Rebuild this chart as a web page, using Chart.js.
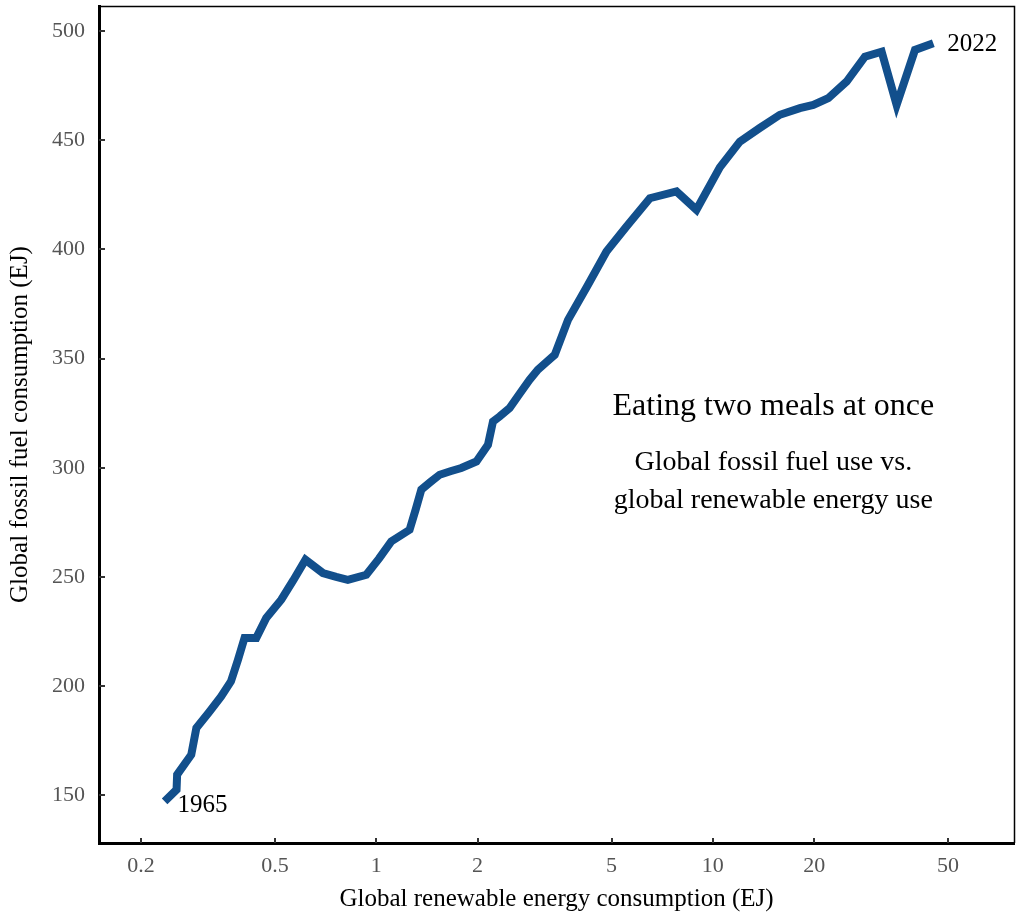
<!DOCTYPE html>
<html>
<head>
<meta charset="utf-8">
<script src="https://cdn.jsdelivr.net/npm/chart.js@4.4.1/dist/chart.umd.min.js"></script>
<style>
  html, body { margin: 0; padding: 0; background: #fff; }
  canvas { display: block; }
</style>
</head>
<body>
<canvas id="myChart" width="1018" height="917"></canvas>
<script>
// years 1965..2022
const years = [
  1965, 1966, 1967, 1968, 1969, 1970, 1971, 1972, 1973, 1974,
  1975, 1976, 1977, 1978, 1979, 1980, 1981, 1982, 1983, 1984,
  1985, 1986, 1987, 1988, 1989, 1990, 1991, 1992, 1993, 1994,
  1995, 1996, 1997, 1998, 1999, 2000, 2001, 2002, 2003, 2004,
  2005, 2006, 2007, 2008, 2009, 2010, 2011, 2012, 2013, 2014,
  2015, 2016, 2017, 2018, 2019, 2020, 2021, 2022
];

// global renewable energy consumption (EJ)
const renewables = [
  0.235, 0.255, 0.256, 0.282, 0.292, 0.318, 0.346, 0.370, 0.388, 0.406,
  0.440, 0.471, 0.522, 0.567, 0.616, 0.694, 0.760, 0.823, 0.934, 1.02,
  1.108, 1.256, 1.31, 1.361, 1.45, 1.543, 1.66, 1.789, 1.984, 2.147,
  2.222, 2.327, 2.49, 2.67, 2.856, 3.02, 3.20, 3.39, 3.713, 4.258,
  4.83, 5.54, 6.50, 7.80, 8.94, 10.49, 12.03, 13.8, 15.82, 18.14,
  19.88, 22.03, 24.98, 28.31, 31.74, 35.16, 39.87, 45.2
];

// global fossil fuel consumption (EJ)
const fossil = [
  147.3, 152.6, 159.5, 168.6, 180.9, 188.0, 195.3, 202.2, 212.0, 222.1,
  222.1, 231.2, 239.6, 248.5, 257.9, 251.8, 250.0, 248.7, 251.0, 258.5,
  266.3, 271.6, 281.0, 290.0, 293.5, 296.8, 298.4, 299.9, 302.9, 310.5,
  321.2, 323.5, 327.3, 334.0, 340.3, 344.9, 348.3, 351.7, 367.7, 383.8,
  399.0, 410.4, 423.4, 426.5, 418.1, 437.5, 449.3, 455.6, 461.6, 464.6,
  466.1, 469.2, 476.8, 488.2, 490.5, 466.1, 491.3, 494.4
];

const xTickValues = [0.2, 0.5, 1, 2, 5, 10, 20, 50];
const yTickValues = [150, 200, 250, 300, 350, 400, 450, 500];

const titleLines = ['Eating two meals at once', 'Global fossil fuel use vs.', 'global renewable energy use'];

const points = renewables.map((r, i) => ({ x: r, y: fossil[i] }));

const serif = '"Liberation Serif", "DejaVu Serif", serif';

// frame on top/right and inward tick marks
const framePlugin = {
  id: 'frame',
  afterDraw(chart) {
    const { ctx, chartArea: a, scales } = chart;
    ctx.save();
    ctx.strokeStyle = '#000';
    ctx.lineWidth = 1.5;
    ctx.beginPath();
    ctx.moveTo(a.left, a.top + 0.5);
    ctx.lineTo(a.right + 0.5, a.top + 0.5);
    ctx.lineTo(a.right + 0.5, a.bottom);
    ctx.stroke();

    ctx.strokeStyle = '#333';
    ctx.lineWidth = 2;
    ctx.beginPath();
    xTickValues.forEach(v => {
      const px = Math.round(scales.x.getPixelForValue(v));
      ctx.moveTo(px, a.bottom);
      ctx.lineTo(px, a.bottom - 5);
    });
    yTickValues.forEach(v => {
      const py = Math.round(scales.y.getPixelForValue(v));
      ctx.moveTo(a.left, py);
      ctx.lineTo(a.left + 6, py);
    });
    ctx.stroke();
    ctx.restore();
  }
};

// year labels and the text block
const textPlugin = {
  id: 'texts',
  afterDatasetsDraw(chart) {
    const { ctx, chartArea: a, scales } = chart;
    ctx.save();
    ctx.fillStyle = '#000';
    ctx.textBaseline = 'middle';
    ctx.textAlign = 'left';
    ctx.font = '25px ' + serif;
    const n = points.length - 1;
    ctx.fillText(String(years[0]),
      scales.x.getPixelForValue(points[0].x) + 13,
      scales.y.getPixelForValue(points[0].y) + 4);
    ctx.fillText(String(years[n]),
      scales.x.getPixelForValue(points[n].x) + 14,
      scales.y.getPixelForValue(points[n].y) + 1);

    ctx.textAlign = 'center';
    const cx = a.left + a.width * 0.737;
    const h = a.bottom - a.top;
    ctx.font = '32px ' + serif;
    ctx.fillText(titleLines[0], cx, a.top + h * 0.4791);
    ctx.font = '28px ' + serif;
    ctx.fillText(titleLines[1], cx, a.top + h * 0.5460);
    ctx.fillText(titleLines[2], cx, a.top + h * 0.5914);
    ctx.restore();
  }
};

const ctx = document.getElementById('myChart').getContext('2d');

const myChart = new Chart(ctx, {
  type: 'scatter',
  data: {
    datasets: [
      {
        label: 'Fossil vs renewables',
        data: points,
        showLine: true,
        borderColor: '#124f8c',
        borderWidth: 8,
        borderCapStyle: 'butt',
        borderJoinStyle: 'miter',
        pointRadius: 0,
        tension: 0
      }
    ]
  },
  options: {
    responsive: false,
    animation: false,
    devicePixelRatio: 1,
    events: [],
    layout: { padding: { top: 6, right: 4, left: 0, bottom: 0 } },
    plugins: {
      legend: { display: false },
      tooltip: { enabled: false }
    },
    scales: {
      x: {
        type: 'logarithmic',
        min: 0.15,
        max: 78.5,
        afterFit(scale) {
          scale.height = 74;
          scale.paddingLeft = 0;
          scale.paddingRight = 0;
        },
        afterBuildTicks(scale) { scale.ticks = xTickValues.map(v => ({ value: v })); },
        grid: { display: true, drawOnChartArea: false, drawTicks: false },
        border: { display: true, color: '#000', width: 3 },
        ticks: {
          autoSkip: false,
          maxRotation: 0,
          padding: 10,
          color: '#555',
          font: { family: serif, size: 22 },
          callback: v => String(v)
        },
        title: {
          display: true,
          text: 'Global renewable energy consumption (EJ)',
          color: '#000',
          font: { family: serif, size: 25 },
          padding: { top: 0, bottom: 3 }
        }
      },
      y: {
        type: 'linear',
        min: 128.2,
        max: 511.4,
        afterFit(scale) {
          scale.width = 99;
          scale.paddingTop = 0;
          scale.paddingBottom = 0;
        },
        afterBuildTicks(scale) { scale.ticks = yTickValues.map(v => ({ value: v })); },
        grid: { display: true, drawOnChartArea: false, drawTicks: false },
        border: { display: true, color: '#000', width: 3 },
        ticks: {
          padding: 14,
          color: '#555',
          font: { family: serif, size: 22 },
          callback: v => String(v)
        },
        title: {
          display: true,
          text: 'Global fossil fuel consumption (EJ)',
          color: '#000',
          font: { family: serif, size: 25 },
          padding: { top: 5, bottom: 0 }
        }
      }
    }
  },
  plugins: [framePlugin, textPlugin]
});
</script>
</body>
</html>
